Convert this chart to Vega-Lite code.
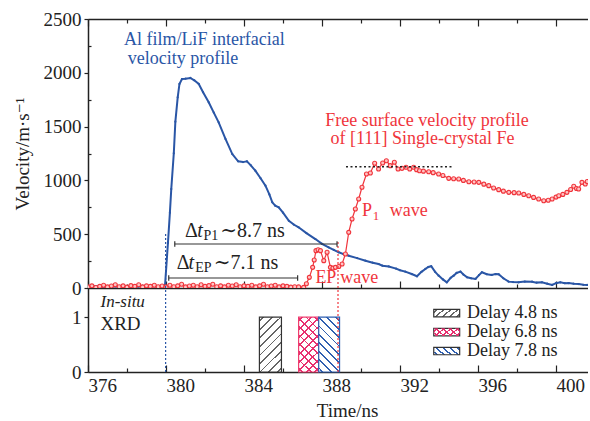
{
"$schema": "https://vega.github.io/schema/vega-lite/v6.json",
"padding": {"left": 13, "top": 10, "right": 0, "bottom": 0},
"bounds": "flush",
"spacing": 0,
"config": {
  "font": "Liberation Serif, DejaVu Serif, serif",
  "view": {"stroke": null},
  "axis": {"labelFont": "Liberation Serif, DejaVu Serif, serif", "titleFont": "Liberation Serif, DejaVu Serif, serif", "labelColor": "#222", "titleColor": "#222", "domainColor": "#222", "tickColor": "#222", "domainWidth": 1.5, "tickWidth": 1.2, "labelFontSize": 19, "titleFontSize": 19, "titleFontWeight": "normal", "grid": false},
  "text": {"font": "Liberation Serif, DejaVu Serif, serif"}
},
"datasets": {
  "blue": [
    {"t":376.0,"v":15},{"t":376.2,"v":10},{"t":376.4,"v":18},{"t":376.6,"v":12},{"t":376.8,"v":8},{"t":377.0,"v":14},{"t":377.2,"v":10},{"t":377.4,"v":16},{"t":377.6,"v":8},{"t":377.8,"v":12},{"t":378.0,"v":10},{"t":378.2,"v":15},{"t":378.4,"v":9},{"t":378.6,"v":13},{"t":378.8,"v":20},{"t":379.0,"v":10},{"t":379.2,"v":14},{"t":379.4,"v":18},{"t":379.6,"v":8},{"t":379.8,"v":12},{"t":379.95,"v":25},
    {"t":380.1,"v":420},{"t":380.2,"v":700},{"t":380.27,"v":920},{"t":380.4,"v":1252},{"t":380.48,"v":1546},{"t":380.6,"v":1772},{"t":380.69,"v":1896},{"t":380.82,"v":1942},{"t":381.0,"v":1945},{"t":381.25,"v":1952},{"t":381.45,"v":1930},{"t":381.68,"v":1896},{"t":381.9,"v":1820},{"t":382.19,"v":1726},{"t":382.45,"v":1630},{"t":382.7,"v":1540},{"t":383.05,"v":1385},{"t":383.4,"v":1245},{"t":383.7,"v":1177},{"t":383.95,"v":1170},{"t":384.15,"v":1177},{"t":384.35,"v":1140},{"t":384.58,"v":1090},{"t":384.85,"v":1020},{"t":385.1,"v":951},{"t":385.3,"v":870},{"t":385.45,"v":796},{"t":385.6,"v":765},{"t":385.78,"v":750},{"t":386.0,"v":700},{"t":386.3,"v":625},{"t":386.55,"v":590},{"t":386.8,"v":564},{"t":387.2,"v":510},{"t":387.66,"v":455},{"t":388.0,"v":410},{"t":388.34,"v":378},{"t":388.6,"v":355},{"t":388.86,"v":332},{"t":389.1,"v":315},{"t":389.37,"v":300},{"t":389.8,"v":278},{"t":390.23,"v":254},{"t":390.6,"v":235},{"t":390.9,"v":223},{"t":391.1,"v":207},{"t":391.42,"v":200},{"t":391.8,"v":180},{"t":392.0,"v":165},{"t":392.27,"v":152},{"t":392.6,"v":130},{"t":392.87,"v":109},{"t":393.1,"v":150},{"t":393.3,"v":177},{"t":393.45,"v":195},{"t":393.6,"v":202},{"t":393.8,"v":150},{"t":393.98,"v":115},{"t":394.2,"v":80},{"t":394.4,"v":53},{"t":394.6,"v":95},{"t":394.75,"v":115},{"t":394.9,"v":140},{"t":395.1,"v":152},{"t":395.25,"v":125},{"t":395.44,"v":99},{"t":395.65,"v":90},{"t":395.87,"v":84},{"t":396.05,"v":120},{"t":396.2,"v":146},{"t":396.45,"v":128},{"t":396.7,"v":121},{"t":396.9,"v":130},{"t":397.06,"v":127},{"t":397.3,"v":90},{"t":397.57,"v":59},{"t":397.8,"v":55},{"t":398.08,"v":53},{"t":398.4,"v":60},{"t":398.77,"v":59},{"t":399.0,"v":50},{"t":399.28,"v":53},{"t":399.55,"v":40},{"t":399.8,"v":28},{"t":400.0,"v":45},{"t":400.22,"v":53},{"t":400.45,"v":45},{"t":400.65,"v":46},{"t":400.9,"v":40},{"t":401.16,"v":37},{"t":401.4,"v":30},{"t":401.6,"v":28}
  ],
  "red": [
    {"t":376.0,"v":10},{"t":376.2,"v":20},{"t":376.4,"v":5},{"t":376.6,"v":15},{"t":376.8,"v":25},{"t":377.0,"v":10},{"t":377.2,"v":18},{"t":377.4,"v":30},{"t":377.6,"v":12},{"t":377.8,"v":20},{"t":378.0,"v":8},{"t":378.2,"v":22},{"t":378.4,"v":15},{"t":378.6,"v":30},{"t":378.8,"v":10},{"t":379.0,"v":20},{"t":379.2,"v":15},{"t":379.4,"v":25},{"t":379.6,"v":12},{"t":379.8,"v":18},{"t":380.0,"v":10},{"t":380.2,"v":25},{"t":380.4,"v":12},{"t":380.6,"v":20},{"t":380.8,"v":35},{"t":381.0,"v":10},{"t":381.2,"v":18},{"t":381.4,"v":25},{"t":381.6,"v":12},{"t":381.8,"v":30},{"t":382.0,"v":15},{"t":382.2,"v":22},{"t":382.4,"v":35},{"t":382.6,"v":12},{"t":382.8,"v":20},{"t":383.0,"v":10},{"t":383.2,"v":25},{"t":383.4,"v":18},{"t":383.6,"v":30},{"t":383.8,"v":12},{"t":384.0,"v":20},{"t":384.2,"v":15},{"t":384.4,"v":25},{"t":384.6,"v":10},{"t":384.8,"v":20},{"t":385.0,"v":35},{"t":385.2,"v":12},{"t":385.4,"v":18},{"t":385.6,"v":25},{"t":385.8,"v":10},{"t":386.0,"v":20},{"t":386.2,"v":15},{"t":386.4,"v":8},{"t":386.6,"v":12},{"t":386.8,"v":10},
    {"t":387.06,"v":6},{"t":387.2,"v":40},{"t":387.35,"v":99},{"t":387.52,"v":192},{"t":387.6,"v":260},{"t":387.69,"v":347},{"t":387.8,"v":355},{"t":387.92,"v":347},{"t":388.09,"v":254},{"t":388.26,"v":332},{"t":388.43,"v":192},{"t":388.56,"v":185},{"t":388.69,"v":192},{"t":388.86,"v":200},{"t":389.03,"v":223},{"t":389.2,"v":316},{"t":389.37,"v":517},{"t":389.54,"v":641},{"t":389.71,"v":734},{"t":389.88,"v":827},{"t":390.05,"v":936},{"t":390.28,"v":1060},{"t":390.48,"v":1069},{"t":390.7,"v":1159},{"t":390.9,"v":1106},{"t":391.11,"v":1162},{"t":391.3,"v":1183},{"t":391.5,"v":1137},{"t":391.71,"v":1168},{"t":391.9,"v":1106},{"t":392.1,"v":1112},{"t":392.31,"v":1122},{"t":392.5,"v":1106},{"t":392.7,"v":1122},{"t":392.85,"v":1100},{"t":393.0,"v":1090},{"t":393.2,"v":1086},{"t":393.47,"v":1081},{"t":393.7,"v":1072},{"t":393.98,"v":1060},{"t":394.2,"v":1045},{"t":394.5,"v":1019},{"t":394.75,"v":1015},{"t":395.01,"v":1013},{"t":395.25,"v":1000},{"t":395.53,"v":988},{"t":395.8,"v":985},{"t":396.04,"v":982},{"t":396.3,"v":965},{"t":396.55,"v":951},{"t":396.8,"v":930},{"t":397.06,"v":914},{"t":397.3,"v":900},{"t":397.58,"v":889},{"t":397.85,"v":886},{"t":398.09,"v":883},{"t":398.35,"v":870},{"t":398.6,"v":858},{"t":398.85,"v":842},{"t":399.11,"v":827},{"t":399.37,"v":811},{"t":399.6,"v":815},{"t":399.8,"v":827},{"t":400.0,"v":845},{"t":400.14,"v":858},{"t":400.35,"v":870},{"t":400.56,"v":889},{"t":400.75,"v":915},{"t":400.91,"v":945},{"t":401.05,"v":925},{"t":401.16,"v":920},{"t":401.33,"v":982},{"t":401.5,"v":967},{"t":401.6,"v":990}
  ]
},
"vconcat": [
{
  "width": 500, "height": 269,
  "encoding": {
    "x": {"field": "t", "type": "quantitative", "scale": {"domain": [376, 401.64], "nice": false, "zero": false}, "axis": null},
    "y": {"field": "v", "type": "quantitative", "scale": {"domain": [0, 2500], "nice": false},
      "axis": {"values": [0,250,500,750,1000,1250,1500,1750,2000,2250,2500], "labelExpr": "datum.value % 500 === 0 ? datum.label : ''", "format": "d",
        "tickSize": {"condition": {"test": "datum.value % 500 === 0", "value": 4}, "value": -3}, "labelPadding": 3, "title": "Velocity/m·s⁻¹", "titlePadding": 11}}
  },
  "resolve": {"axis": {"x": "independent"}},
  "layer": [
    {"data": {"name": "blue"}, "mark": {"type": "line", "color": "#2a56a6", "strokeWidth": 2, "clip": true},
     "encoding": {"x": {"field": "t", "type": "quantitative", "scale": {"domain": [376, 401.64], "nice": false, "zero": false},
       "axis": {"orient": "bottom", "values": [376,378,380,382,384,386,388,390,392,394,396,398,400], "labels": false, "title": null,
         "tickSize": {"condition": {"test": "datum.value % 4 === 0", "value": -7}, "value": -4}}}}},
    {"data": {"name": "blue"}, "mark": {"type": "point", "filled": true, "size": 5, "color": "#2a56a6", "opacity": 1, "clip": true}},
    {"data": {"name": "red"}, "mark": {"type": "line", "color": "#f0353c", "strokeWidth": 1.2, "clip": true},
     "encoding": {"x": {"field": "t", "type": "quantitative", "scale": {"domain": [376, 401.64], "nice": false, "zero": false},
       "axis": {"orient": "top", "values": [376,378,380,382,384,386,388,390,392,394,396,398,400], "labels": false, "title": null,
         "tickSize": {"condition": {"test": "datum.value % 4 === 0", "value": -7}, "value": -4}}}}},
    {"data": {"name": "red"}, "mark": {"type": "point", "filled": true, "size": 16, "fill": "#ffc4c4", "stroke": "#f0353c", "strokeWidth": 1.1, "opacity": 1, "clip": true}},
    {"data": {"values": [{"t": 379.98, "v": 0, "v2": 511}]}, "mark": {"type": "rule", "color": "#2a56a6", "strokeDash": [2, 2], "strokeWidth": 1.2}, "encoding": {"y2": {"field": "v2"}}},
    {"data": {"values": [{"t": 388.82, "v": 0, "v2": 428}]}, "mark": {"type": "rule", "color": "#f0353c", "strokeDash": [2, 2], "strokeWidth": 1.2}, "encoding": {"y2": {"field": "v2"}}},
    {"data": {"values": [{"t": 389.23, "t2": 394.67, "v": 1127}]}, "mark": {"type": "rule", "color": "#222", "strokeDash": [2, 2.5], "strokeWidth": 1.3}, "encoding": {"x2": {"field": "t2"}}},
    {"data": {"values": [{"t": 380.45, "t2": 388.77, "v": 409}, {"t": 380.14, "t2": 386.75, "v": 93}]}, "mark": {"type": "rule", "color": "#333", "strokeWidth": 1.2}, "encoding": {"x2": {"field": "t2"}}},
    {"data": {"values": [{"t": 380.45, "v": 384, "v2": 434}, {"t": 388.77, "v": 384, "v2": 434}, {"t": 380.14, "v": 68, "v2": 118}, {"t": 386.75, "v": 68, "v2": 118}]}, "mark": {"type": "rule", "color": "#333", "strokeWidth": 1.2}, "encoding": {"y2": {"field": "v2"}}},
    {"data": {"values": [{"t": 377.84, "v": 2261, "label": "Al film/LiF interfacial"}, {"t": 378.04, "v": 2082, "label": "velocity profile"}]},
     "mark": {"type": "text", "align": "left", "baseline": "alphabetic", "fontSize": 18, "color": "#2a56a6"}, "encoding": {"text": {"field": "label"}}},
    {"data": {"values": [{"t": 388.17, "v": 1508, "label": "Free surface velocity profile"}, {"t": 388.43, "v": 1335, "label": "of [111] Single-crystal Fe"}, {"t": 387.66, "v": 44, "label": "EP wave"}, {"t": 390.05, "v": 672, "label": "P"}, {"t": 391.48, "v": 672, "label": "wave"}]},
     "mark": {"type": "text", "align": "left", "baseline": "alphabetic", "fontSize": 18, "color": "#f0353c"}, "encoding": {"text": {"field": "label"}}},
    {"data": {"values": [{"t": 390.6, "v": 632, "label": "1"}]},
     "mark": {"type": "text", "align": "left", "baseline": "alphabetic", "fontSize": 13, "color": "#f0353c"}, "encoding": {"text": {"field": "label"}}},
    {"data": {"values": [{"t": 380.97, "v": 471, "label": "Δ"}, {"t": 382.78, "v": 471, "label": "∼8.7 ns"}, {"t": 380.55, "v": 177, "label": "Δ"}, {"t": 382.45, "v": 177, "label": "∼7.1 ns"}]},
     "mark": {"type": "text", "align": "left", "baseline": "alphabetic", "fontSize": 20, "color": "#222"}, "encoding": {"text": {"field": "label"}}},
    {"data": {"values": [{"t": 381.6, "v": 471, "label": "t"}, {"t": 381.16, "v": 177, "label": "t"}]},
     "mark": {"type": "text", "align": "left", "baseline": "alphabetic", "fontSize": 20, "fontStyle": "italic", "color": "#222"}, "encoding": {"text": {"field": "label"}}},
    {"data": {"values": [{"t": 381.92, "v": 449, "label": "P1"}, {"t": 381.5, "v": 146, "label": "EP"}]},
     "mark": {"type": "text", "align": "left", "baseline": "alphabetic", "fontSize": 14, "color": "#222"}, "encoding": {"text": {"field": "label"}}}
  ]
},
{
  "width": 500, "height": 84,
  "encoding": {
    "x": {"field": "t", "type": "quantitative", "scale": {"domain": [376, 401.64], "nice": false, "zero": false},
      "axis": {"orient": "bottom", "values": [376,378,380,382,384,386,388,390,392,394,396,398,400], "labelExpr": "datum.value % 4 === 0 ? datum.label : ''", "format": "d",
        "labelAlign": "left", "labelDx": -2, "labelPadding": 11,
        "tickSize": {"condition": {"test": "datum.value % 4 === 0", "value": -7}, "value": -4},
        "title": "Time/ns", "titleX": 259, "titlePadding": 6}},
    "y": {"field": "v", "type": "quantitative", "scale": {"domain": [0, 1.53], "nice": false},
      "axis": {"values": [0, 0.5, 1], "labelExpr": "datum.value === 0.5 ? '' : datum.label", "format": "d",
        "tickSize": {"condition": {"test": "datum.value === 0.5", "value": -3}, "value": 4}, "labelPadding": 3, "title": null}}
  },
  "layer": [
    {"data": {"values": [{"t": 384.79, "t2": 385.92, "v": 0, "v2": 1}]},
     "mark": {"type": "rect", "stroke": "#333", "strokeWidth": 1.2,
       "fill": {"gradient": "linear", "x1": 0, "y1": 0, "x2": 0.483, "y2": 1.207, "stops": [
        {"offset":0,"color":"#fff"},
        {"offset":0.0436,"color":"#fff"},{"offset":0.0436,"color":"#666"},{"offset":0.0676,"color":"#666"},{"offset":0.0676,"color":"#fff"},
        {"offset":0.1547,"color":"#fff"},{"offset":0.1547,"color":"#666"},{"offset":0.1787,"color":"#666"},{"offset":0.1787,"color":"#fff"},
        {"offset":0.2658,"color":"#fff"},{"offset":0.2658,"color":"#666"},{"offset":0.2898,"color":"#666"},{"offset":0.2898,"color":"#fff"},
        {"offset":0.3769,"color":"#fff"},{"offset":0.3769,"color":"#666"},{"offset":0.4009,"color":"#666"},{"offset":0.4009,"color":"#fff"},
        {"offset":0.488,"color":"#fff"},{"offset":0.488,"color":"#666"},{"offset":0.512,"color":"#666"},{"offset":0.512,"color":"#fff"},
        {"offset":0.5991,"color":"#fff"},{"offset":0.5991,"color":"#666"},{"offset":0.6231,"color":"#666"},{"offset":0.6231,"color":"#fff"},
        {"offset":0.7102,"color":"#fff"},{"offset":0.7102,"color":"#666"},{"offset":0.7342,"color":"#666"},{"offset":0.7342,"color":"#fff"},
        {"offset":0.8213,"color":"#fff"},{"offset":0.8213,"color":"#666"},{"offset":0.8453,"color":"#666"},{"offset":0.8453,"color":"#fff"},
        {"offset":0.9324,"color":"#fff"},{"offset":0.9324,"color":"#666"},{"offset":0.9564,"color":"#666"},{"offset":0.9564,"color":"#fff"},
        {"offset":1,"color":"#fff"}]}},
     "encoding": {"x2": {"field": "t2"}, "y2": {"field": "v2"}}},
    {"data": {"values": [{"t": 386.8, "t2": 387.83, "v": 0, "v2": 1}]},
     "mark": {"type": "rect", "stroke": "#f0406e", "strokeWidth": 1.2, "fill": "#fff"},
     "encoding": {"x2": {"field": "t2"}, "y2": {"field": "v2"}}},
    {"data": {"values": [{"t": 386.8, "t2": 387.83, "v": 0, "v2": 1}]},
     "mark": {"type": "rect",
       "fill": {"gradient": "linear", "x1": 0, "y1": 0, "x2": 0.438, "y2": 1.205, "stops": [
        {"offset":0,"color":"rgba(255,255,255,0)"},
        {"offset":0.0436,"color":"rgba(255,255,255,0)"},{"offset":0.0436,"color":"#e8306f"},{"offset":0.0676,"color":"#e8306f"},{"offset":0.0676,"color":"rgba(255,255,255,0)"},
        {"offset":0.1547,"color":"rgba(255,255,255,0)"},{"offset":0.1547,"color":"#e8306f"},{"offset":0.1787,"color":"#e8306f"},{"offset":0.1787,"color":"rgba(255,255,255,0)"},
        {"offset":0.2658,"color":"rgba(255,255,255,0)"},{"offset":0.2658,"color":"#e8306f"},{"offset":0.2898,"color":"#e8306f"},{"offset":0.2898,"color":"rgba(255,255,255,0)"},
        {"offset":0.3769,"color":"rgba(255,255,255,0)"},{"offset":0.3769,"color":"#e8306f"},{"offset":0.4009,"color":"#e8306f"},{"offset":0.4009,"color":"rgba(255,255,255,0)"},
        {"offset":0.488,"color":"rgba(255,255,255,0)"},{"offset":0.488,"color":"#e8306f"},{"offset":0.512,"color":"#e8306f"},{"offset":0.512,"color":"rgba(255,255,255,0)"},
        {"offset":0.5991,"color":"rgba(255,255,255,0)"},{"offset":0.5991,"color":"#e8306f"},{"offset":0.6231,"color":"#e8306f"},{"offset":0.6231,"color":"rgba(255,255,255,0)"},
        {"offset":0.7102,"color":"rgba(255,255,255,0)"},{"offset":0.7102,"color":"#e8306f"},{"offset":0.7342,"color":"#e8306f"},{"offset":0.7342,"color":"rgba(255,255,255,0)"},
        {"offset":0.8213,"color":"rgba(255,255,255,0)"},{"offset":0.8213,"color":"#e8306f"},{"offset":0.8453,"color":"#e8306f"},{"offset":0.8453,"color":"rgba(255,255,255,0)"},
        {"offset":0.9324,"color":"rgba(255,255,255,0)"},{"offset":0.9324,"color":"#e8306f"},{"offset":0.9564,"color":"#e8306f"},{"offset":0.9564,"color":"rgba(255,255,255,0)"},
        {"offset":1,"color":"rgba(255,255,255,0)"}]}},
     "encoding": {"x2": {"field": "t2"}, "y2": {"field": "v2"}}},
    {"data": {"values": [{"t": 386.8, "t2": 387.83, "v": 0, "v2": 1}]},
     "mark": {"type": "rect",
       "fill": {"gradient": "linear", "x1": 1, "y1": 0, "x2": 0.562, "y2": 1.205, "stops": [
        {"offset":0,"color":"rgba(255,255,255,0)"},
        {"offset":0.0436,"color":"rgba(255,255,255,0)"},{"offset":0.0436,"color":"#e8306f"},{"offset":0.0676,"color":"#e8306f"},{"offset":0.0676,"color":"rgba(255,255,255,0)"},
        {"offset":0.1547,"color":"rgba(255,255,255,0)"},{"offset":0.1547,"color":"#e8306f"},{"offset":0.1787,"color":"#e8306f"},{"offset":0.1787,"color":"rgba(255,255,255,0)"},
        {"offset":0.2658,"color":"rgba(255,255,255,0)"},{"offset":0.2658,"color":"#e8306f"},{"offset":0.2898,"color":"#e8306f"},{"offset":0.2898,"color":"rgba(255,255,255,0)"},
        {"offset":0.3769,"color":"rgba(255,255,255,0)"},{"offset":0.3769,"color":"#e8306f"},{"offset":0.4009,"color":"#e8306f"},{"offset":0.4009,"color":"rgba(255,255,255,0)"},
        {"offset":0.488,"color":"rgba(255,255,255,0)"},{"offset":0.488,"color":"#e8306f"},{"offset":0.512,"color":"#e8306f"},{"offset":0.512,"color":"rgba(255,255,255,0)"},
        {"offset":0.5991,"color":"rgba(255,255,255,0)"},{"offset":0.5991,"color":"#e8306f"},{"offset":0.6231,"color":"#e8306f"},{"offset":0.6231,"color":"rgba(255,255,255,0)"},
        {"offset":0.7102,"color":"rgba(255,255,255,0)"},{"offset":0.7102,"color":"#e8306f"},{"offset":0.7342,"color":"#e8306f"},{"offset":0.7342,"color":"rgba(255,255,255,0)"},
        {"offset":0.8213,"color":"rgba(255,255,255,0)"},{"offset":0.8213,"color":"#e8306f"},{"offset":0.8453,"color":"#e8306f"},{"offset":0.8453,"color":"rgba(255,255,255,0)"},
        {"offset":0.9324,"color":"rgba(255,255,255,0)"},{"offset":0.9324,"color":"#e8306f"},{"offset":0.9564,"color":"#e8306f"},{"offset":0.9564,"color":"rgba(255,255,255,0)"},
        {"offset":1,"color":"rgba(255,255,255,0)"}]}},
     "encoding": {"x2": {"field": "t2"}, "y2": {"field": "v2"}}},
    {"data": {"values": [{"t": 387.83, "t2": 388.9, "v": 0, "v2": 1}]},
     "mark": {"type": "rect", "stroke": "#2f5fb0", "strokeWidth": 1.2,
       "fill": {"gradient": "linear", "x1": 1, "y1": 0, "x2": 0.539, "y2": 1.206, "stops": [
        {"offset":0,"color":"#fff"},
        {"offset":0.0436,"color":"#fff"},{"offset":0.0436,"color":"#2f5fb0"},{"offset":0.0676,"color":"#2f5fb0"},{"offset":0.0676,"color":"#fff"},
        {"offset":0.1547,"color":"#fff"},{"offset":0.1547,"color":"#2f5fb0"},{"offset":0.1787,"color":"#2f5fb0"},{"offset":0.1787,"color":"#fff"},
        {"offset":0.2658,"color":"#fff"},{"offset":0.2658,"color":"#2f5fb0"},{"offset":0.2898,"color":"#2f5fb0"},{"offset":0.2898,"color":"#fff"},
        {"offset":0.3769,"color":"#fff"},{"offset":0.3769,"color":"#2f5fb0"},{"offset":0.4009,"color":"#2f5fb0"},{"offset":0.4009,"color":"#fff"},
        {"offset":0.488,"color":"#fff"},{"offset":0.488,"color":"#2f5fb0"},{"offset":0.512,"color":"#2f5fb0"},{"offset":0.512,"color":"#fff"},
        {"offset":0.5991,"color":"#fff"},{"offset":0.5991,"color":"#2f5fb0"},{"offset":0.6231,"color":"#2f5fb0"},{"offset":0.6231,"color":"#fff"},
        {"offset":0.7102,"color":"#fff"},{"offset":0.7102,"color":"#2f5fb0"},{"offset":0.7342,"color":"#2f5fb0"},{"offset":0.7342,"color":"#fff"},
        {"offset":0.8213,"color":"#fff"},{"offset":0.8213,"color":"#2f5fb0"},{"offset":0.8453,"color":"#2f5fb0"},{"offset":0.8453,"color":"#fff"},
        {"offset":0.9324,"color":"#fff"},{"offset":0.9324,"color":"#2f5fb0"},{"offset":0.9564,"color":"#2f5fb0"},{"offset":0.9564,"color":"#fff"},
        {"offset":1,"color":"#fff"}]}},
     "encoding": {"x2": {"field": "t2"}, "y2": {"field": "v2"}}},
    {"data": {"values": [{"t": 393.73, "t2": 395.06, "v": 1.005, "v2": 1.141}]},
     "mark": {"type": "rect", "stroke": "#333", "strokeWidth": 1.2,
       "fill": {"gradient": "linear", "x1": 0, "y1": 0, "x2": 1.202, "y2": 0.416, "stops": [
        {"offset":0,"color":"#fff"},{"offset":0.07,"color":"#fff"},{"offset":0.07,"color":"#666"},{"offset":0.13,"color":"#666"},{"offset":0.13,"color":"#fff"},
        {"offset":0.27,"color":"#fff"},{"offset":0.27,"color":"#666"},{"offset":0.33,"color":"#666"},{"offset":0.33,"color":"#fff"},
        {"offset":0.47,"color":"#fff"},{"offset":0.47,"color":"#666"},{"offset":0.53,"color":"#666"},{"offset":0.53,"color":"#fff"},
        {"offset":0.67,"color":"#fff"},{"offset":0.67,"color":"#666"},{"offset":0.73,"color":"#666"},{"offset":0.73,"color":"#fff"},
        {"offset":0.87,"color":"#fff"},{"offset":0.87,"color":"#666"},{"offset":0.93,"color":"#666"},{"offset":0.93,"color":"#fff"},{"offset":1,"color":"#fff"}]}},
     "encoding": {"x2": {"field": "t2"}, "y2": {"field": "v2"}}},
    {"data": {"values": [{"t": 393.73, "t2": 395.06, "v": 0.659, "v2": 0.795}]},
     "mark": {"type": "rect", "stroke": "#333", "strokeWidth": 1.2, "fill": "#fff"},
     "encoding": {"x2": {"field": "t2"}, "y2": {"field": "v2"}}},
    {"data": {"values": [{"t": 393.73, "t2": 395.06, "v": 0.659, "v2": 0.795}]},
     "mark": {"type": "rect",
       "fill": {"gradient": "linear", "x1": 0, "y1": 0, "x2": 1.202, "y2": 0.416, "stops": [
        {"offset":0,"color":"rgba(255,255,255,0)"},{"offset":0.07,"color":"rgba(255,255,255,0)"},{"offset":0.07,"color":"#e8306f"},{"offset":0.13,"color":"#e8306f"},{"offset":0.13,"color":"rgba(255,255,255,0)"},
        {"offset":0.27,"color":"rgba(255,255,255,0)"},{"offset":0.27,"color":"#e8306f"},{"offset":0.33,"color":"#e8306f"},{"offset":0.33,"color":"rgba(255,255,255,0)"},
        {"offset":0.47,"color":"rgba(255,255,255,0)"},{"offset":0.47,"color":"#e8306f"},{"offset":0.53,"color":"#e8306f"},{"offset":0.53,"color":"rgba(255,255,255,0)"},
        {"offset":0.67,"color":"rgba(255,255,255,0)"},{"offset":0.67,"color":"#e8306f"},{"offset":0.73,"color":"#e8306f"},{"offset":0.73,"color":"rgba(255,255,255,0)"},
        {"offset":0.87,"color":"rgba(255,255,255,0)"},{"offset":0.87,"color":"#e8306f"},{"offset":0.93,"color":"#e8306f"},{"offset":0.93,"color":"rgba(255,255,255,0)"},{"offset":1,"color":"rgba(255,255,255,0)"}]}},
     "encoding": {"x2": {"field": "t2"}, "y2": {"field": "v2"}}},
    {"data": {"values": [{"t": 393.73, "t2": 395.06, "v": 0.659, "v2": 0.795}]},
     "mark": {"type": "rect",
       "fill": {"gradient": "linear", "x1": 1, "y1": 0, "x2": -0.202, "y2": 0.416, "stops": [
        {"offset":0,"color":"rgba(255,255,255,0)"},{"offset":0.07,"color":"rgba(255,255,255,0)"},{"offset":0.07,"color":"#e8306f"},{"offset":0.13,"color":"#e8306f"},{"offset":0.13,"color":"rgba(255,255,255,0)"},
        {"offset":0.27,"color":"rgba(255,255,255,0)"},{"offset":0.27,"color":"#e8306f"},{"offset":0.33,"color":"#e8306f"},{"offset":0.33,"color":"rgba(255,255,255,0)"},
        {"offset":0.47,"color":"rgba(255,255,255,0)"},{"offset":0.47,"color":"#e8306f"},{"offset":0.53,"color":"#e8306f"},{"offset":0.53,"color":"rgba(255,255,255,0)"},
        {"offset":0.67,"color":"rgba(255,255,255,0)"},{"offset":0.67,"color":"#e8306f"},{"offset":0.73,"color":"#e8306f"},{"offset":0.73,"color":"rgba(255,255,255,0)"},
        {"offset":0.87,"color":"rgba(255,255,255,0)"},{"offset":0.87,"color":"#e8306f"},{"offset":0.93,"color":"#e8306f"},{"offset":0.93,"color":"rgba(255,255,255,0)"},{"offset":1,"color":"rgba(255,255,255,0)"}]}},
     "encoding": {"x2": {"field": "t2"}, "y2": {"field": "v2"}}},
    {"data": {"values": [{"t": 393.73, "t2": 395.06, "v": 0.314, "v2": 0.45}]},
     "mark": {"type": "rect", "stroke": "#333", "strokeWidth": 1.2,
       "fill": {"gradient": "linear", "x1": 1, "y1": 0, "x2": -0.202, "y2": 0.416, "stops": [
        {"offset":0,"color":"#fff"},{"offset":0.07,"color":"#fff"},{"offset":0.07,"color":"#2f5fb0"},{"offset":0.13,"color":"#2f5fb0"},{"offset":0.13,"color":"#fff"},
        {"offset":0.27,"color":"#fff"},{"offset":0.27,"color":"#2f5fb0"},{"offset":0.33,"color":"#2f5fb0"},{"offset":0.33,"color":"#fff"},
        {"offset":0.47,"color":"#fff"},{"offset":0.47,"color":"#2f5fb0"},{"offset":0.53,"color":"#2f5fb0"},{"offset":0.53,"color":"#fff"},
        {"offset":0.67,"color":"#fff"},{"offset":0.67,"color":"#2f5fb0"},{"offset":0.73,"color":"#2f5fb0"},{"offset":0.73,"color":"#fff"},
        {"offset":0.87,"color":"#fff"},{"offset":0.87,"color":"#2f5fb0"},{"offset":0.93,"color":"#2f5fb0"},{"offset":0.93,"color":"#fff"},{"offset":1,"color":"#fff"}]}},
     "encoding": {"x2": {"field": "t2"}, "y2": {"field": "v2"}}},
    {"data": {"values": [{"t": 395.44, "v": 1.073, "label": "Delay 4.8 ns"}, {"t": 395.44, "v": 0.727, "label": "Delay 6.8 ns"}, {"t": 395.44, "v": 0.382, "label": "Delay 7.8 ns"}]},
     "mark": {"type": "text", "align": "left", "baseline": "middle", "fontSize": 18, "color": "#222"}, "encoding": {"text": {"field": "label"}}},
    {"data": {"values": [{"t": 376.64, "v": 1.18, "label": "In-situ"}]},
     "mark": {"type": "text", "align": "left", "baseline": "alphabetic", "fontSize": 17, "fontStyle": "italic", "color": "#222"}, "encoding": {"text": {"field": "label"}}},
    {"data": {"values": [{"t": 376.64, "v": 0.77, "label": "XRD"}]},
     "mark": {"type": "text", "align": "left", "baseline": "alphabetic", "fontSize": 19, "color": "#222"}, "encoding": {"text": {"field": "label"}}},
    {"data": {"values": [{"t": 379.98, "v": 0, "v2": 1.53}]}, "mark": {"type": "rule", "color": "#2a56a6", "strokeDash": [2, 2], "strokeWidth": 1.2}, "encoding": {"y2": {"field": "v2"}}},
    {"data": {"values": [{"t": 388.82, "v": 0, "v2": 1.53}]}, "mark": {"type": "rule", "color": "#f0353c", "strokeDash": [2, 2], "strokeWidth": 1.2}, "encoding": {"y2": {"field": "v2"}}}
  ]
}
]
}
